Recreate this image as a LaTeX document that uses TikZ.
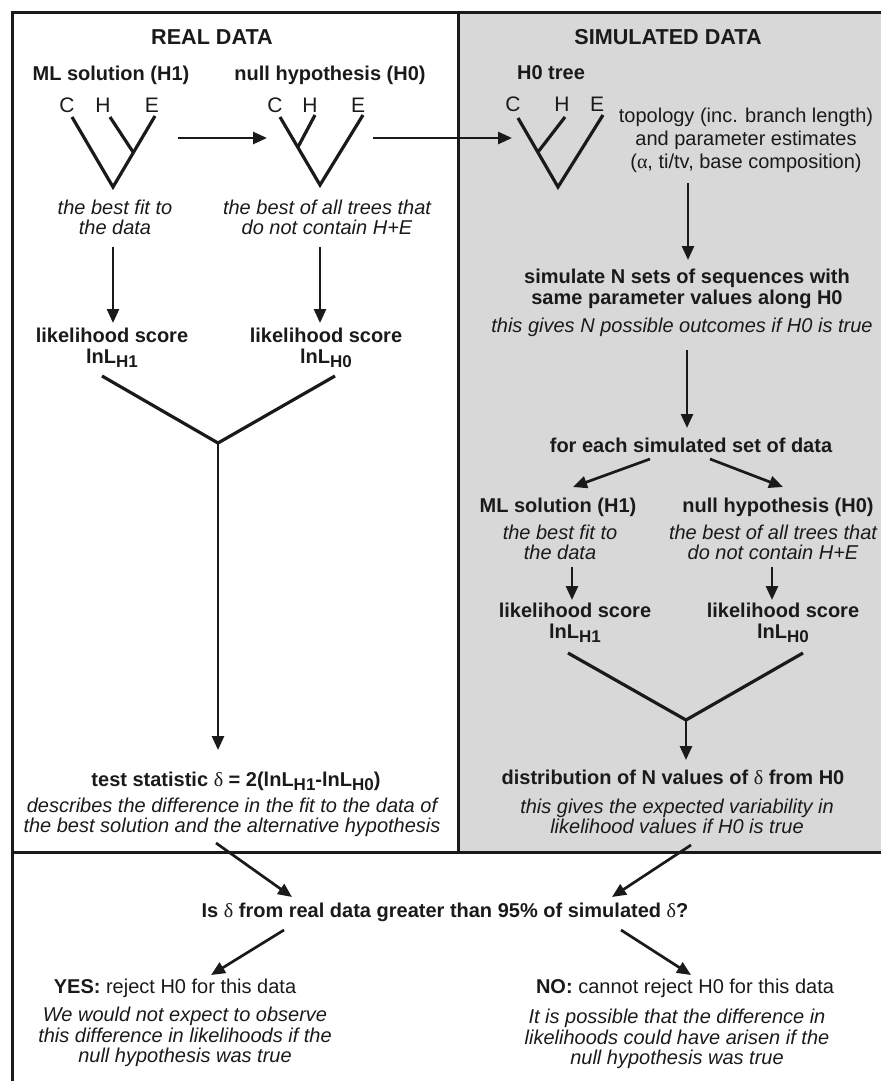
\documentclass[tikz,border=0pt]{standalone}
\usepackage{fontspec}
\setmainfont{Liberation Sans}
\newfontfamily\greekfont{Liberation Serif}
\usepackage{tikz}
\usetikzlibrary{arrows.meta,calc}
\definecolor{ink}{HTML}{1A1A1A}
\definecolor{panel}{HTML}{D8D8D8}
\newcommand{\gdelta}{{\greekfont\mdseries δ}}
\newcommand{\galpha}{{\greekfont\mdseries α}}
\newcommand{\lnL}[1]{lnL\raisebox{-2pt}{\fontsize{8.5}{8.5}\selectfont#1}}

\begin{document}
\begin{tikzpicture}[x=0.5pt,y=-0.5pt,color=ink,
  hd/.style={font=\fontsize{10.8}{11}\selectfont\bfseries,inner sep=0pt},
  bt/.style={font=\fontsize{10}{10.5}\selectfont\bfseries,align=center,inner sep=0pt},
  it/.style={font=\fontsize{10}{10}\selectfont\itshape,align=center,inner sep=0pt},
  rm/.style={font=\fontsize{10}{11.5}\selectfont,align=center,inner sep=0pt},
  itw/.style={font=\fontsize{10}{10.25}\selectfont\itshape,align=center,inner sep=0pt},
  leaf/.style={font=\fontsize{10.5}{11}\selectfont,inner sep=0pt},
  br/.style={line width=1.6pt},
  arr/.style={line width=1.35pt,-{Triangle[length=7pt,width=6pt]}},
  rule/.style={line width=1.5pt}
]
\useasboundingbox (0,0) rectangle (881,1081);
\fill[panel] (458,13) rectangle (895,851);
\draw[rule] (12,1095) -- (12,13) -- (895,13);
\draw[rule] (458,13) -- (458,852);
\draw[rule] (12,852) -- (895,852);

\node[hd] (real) at (212,37) {REAL DATA};
\node[hd] (simd) at (668,37) {SIMULATED DATA};

\node[bt] (ml) at (111,75) {ML solution (H1)};
\node[bt] (null) at (330,75) {null hypothesis (H0)};
\foreach \n/\x in {C/67,H/103,E/152}
  \node[leaf] (a\n) at (\x,105) {\n};
\coordinate (ra) at (113,187);
\coordinate (ja) at (133,152);
\draw[br] ($(aC)+(5,12)$) -- (ra) -- ($(aE)+(3,11)$);
\draw[br] ($(aH)+(7,12)$) -- (ja);
\foreach \n/\x in {C/275,H/310,E/358}
  \node[leaf] (b\n) at (\x,105) {\n};
\coordinate (rb) at (320,185);
\coordinate (jb) at (298,147);
\draw[br] ($(bC)+(5,12)$) -- (rb) -- ($(bE)+(5,10)$);
\draw[br] ($(bH)+(5,10)$) -- (jb);
\draw[arr] ($(ra)+(65,-49)$) -- ($(rb)+(-53,-47)$);

\node[it] (mlnote) at (115,217) {the best fit to\\the data};
\node[it] (nullnote) at (327,217) {the best of all trees that\\do not contain H+E};
\node[bt] (lsA) at (112,347.5) {likelihood score\\\lnL{H1}};
\node[bt] (lsB) at (326,347.5) {likelihood score\\\lnL{H0}};
\draw[arr] ($(mlnote)+(-2,30)$) -- ($(lsA)+(1,-24.5)$);
\draw[arr] ($(nullnote)+(-7,30)$) -- ($(lsB)+(-6,-24.5)$);
\coordinate (ya) at (218,443);
\draw[br] ($(lsA)+(-10,28.5)$) -- (ya) -- ($(lsB)+(9,28.5)$);
\node[bt] (test) at (236,781) {test statistic \gdelta\ = 2(\lnL{H1}-\lnL{H0})};
\node[it] (testnote) at (232,817.5) {describes the difference in the fit to the data of\\the best solution and the alternative hypothesis};
\draw[arr] (ya) -- ($(test)+(-18,-31)$);

\node[bt] (h0) at (551,73) {H0 tree};
\foreach \n/\x in {C/513,H/562,E/597}
  \node[leaf] (c\n) at (\x,104) {\n};
\coordinate (rc) at (558,187);
\coordinate (jc) at (538,152);
\draw[br] ($(cC)+(5,14)$) -- (rc) -- ($(cE)+(6,11)$);
\draw[br] ($(cH)+(3,13)$) -- (jc);
\draw[arr] ($(rb)+(53,-47)$) -- ($(rc)+(-46,-49)$);
\node[rm] (topo) at (746,140) {topology (inc. branch length)\\and parameter estimates\\(\galpha, ti/tv, base composition)};

\node[bt] (simA) at (687,288.5) {simulate N sets of sequences with\\same parameter values along H0};
\node[it] (simnote) at (682,327) {this gives N possible outcomes if H0 is true};
\draw[arr] ($(topo)+(-58,43)$) -- ($(simA)+(1,-28.5)$);
\node[bt] (each) at (691,445) {for each simulated set of data};
\draw[arr] ($(simnote)+(5,23)$) -- ($(each)+(-4,-17)$);

\node[bt] (mlB) at (558,507) {ML solution (H1)};
\node[it] (mlBnote) at (560,542) {the best fit to\\the data};
\node[bt] (nullB) at (778,507) {null hypothesis (H0)};
\node[it] (nullBnote) at (773,542) {the best of all trees that\\do not contain H+E};
\draw[arr] ($(each)+(-41,14)$) -- ($(mlB)+(15,-20)$);
\draw[arr] ($(each)+(19,14)$) -- ($(nullB)+(5,-20)$);
\node[bt] (lsC) at (575,622.5) {likelihood score\\\lnL{H1}};
\node[bt] (lsD) at (783,622.5) {likelihood score\\\lnL{H0}};
\draw[arr] ($(mlBnote)+(12,25)$) -- ($(lsC)+(-3,-22.5)$);
\draw[arr] ($(nullBnote)+(-1,25)$) -- ($(lsD)+(-11,-22.5)$);
\coordinate (yb) at (686,720);
\draw[br] ($(lsC)+(-7,30.5)$) -- (yb) -- ($(lsD)+(20,30.5)$);
\node[bt] (dist) at (673,777) {distribution of N values of \gdelta\ from H0};
\node[it] (distnote) at (677,816.5) {this gives the expected variability in\\likelihood values if H0 is true};
\draw[arr] (yb) -- ($(dist)+(13,-17)$);

\node[bt] (ask) at (445,912) {Is \gdelta\ from real data greater than 95\% of simulated \gdelta?};
\draw[arr] ($(testnote)+(-16,25.5)$) -- ($(ask)+(-153,-15)$);
\draw[arr] ($(distnote)+(14,28.5)$) -- ($(ask)+(167,-15)$);
\node[rm] (yes) at (175,988) {\textbf{YES:} reject H0 for this data};
\node[itw] (yesnote) at (185,1037) {We would not expect to observe\\this difference in likelihoods if the\\null hypothesis was true};
\node[rm] (no) at (685,988) {\textbf{NO:} cannot reject H0 for this data};
\node[itw] (nonote) at (677,1039) {It is possible that the difference in\\likelihoods could have arisen if the\\null hypothesis was true};
\draw[arr] ($(ask)+(-161,18)$) -- ($(yes)+(36,-13)$);
\draw[arr] ($(ask)+(176,18)$) -- ($(no)+(6,-13)$);
\end{tikzpicture}
\end{document}
